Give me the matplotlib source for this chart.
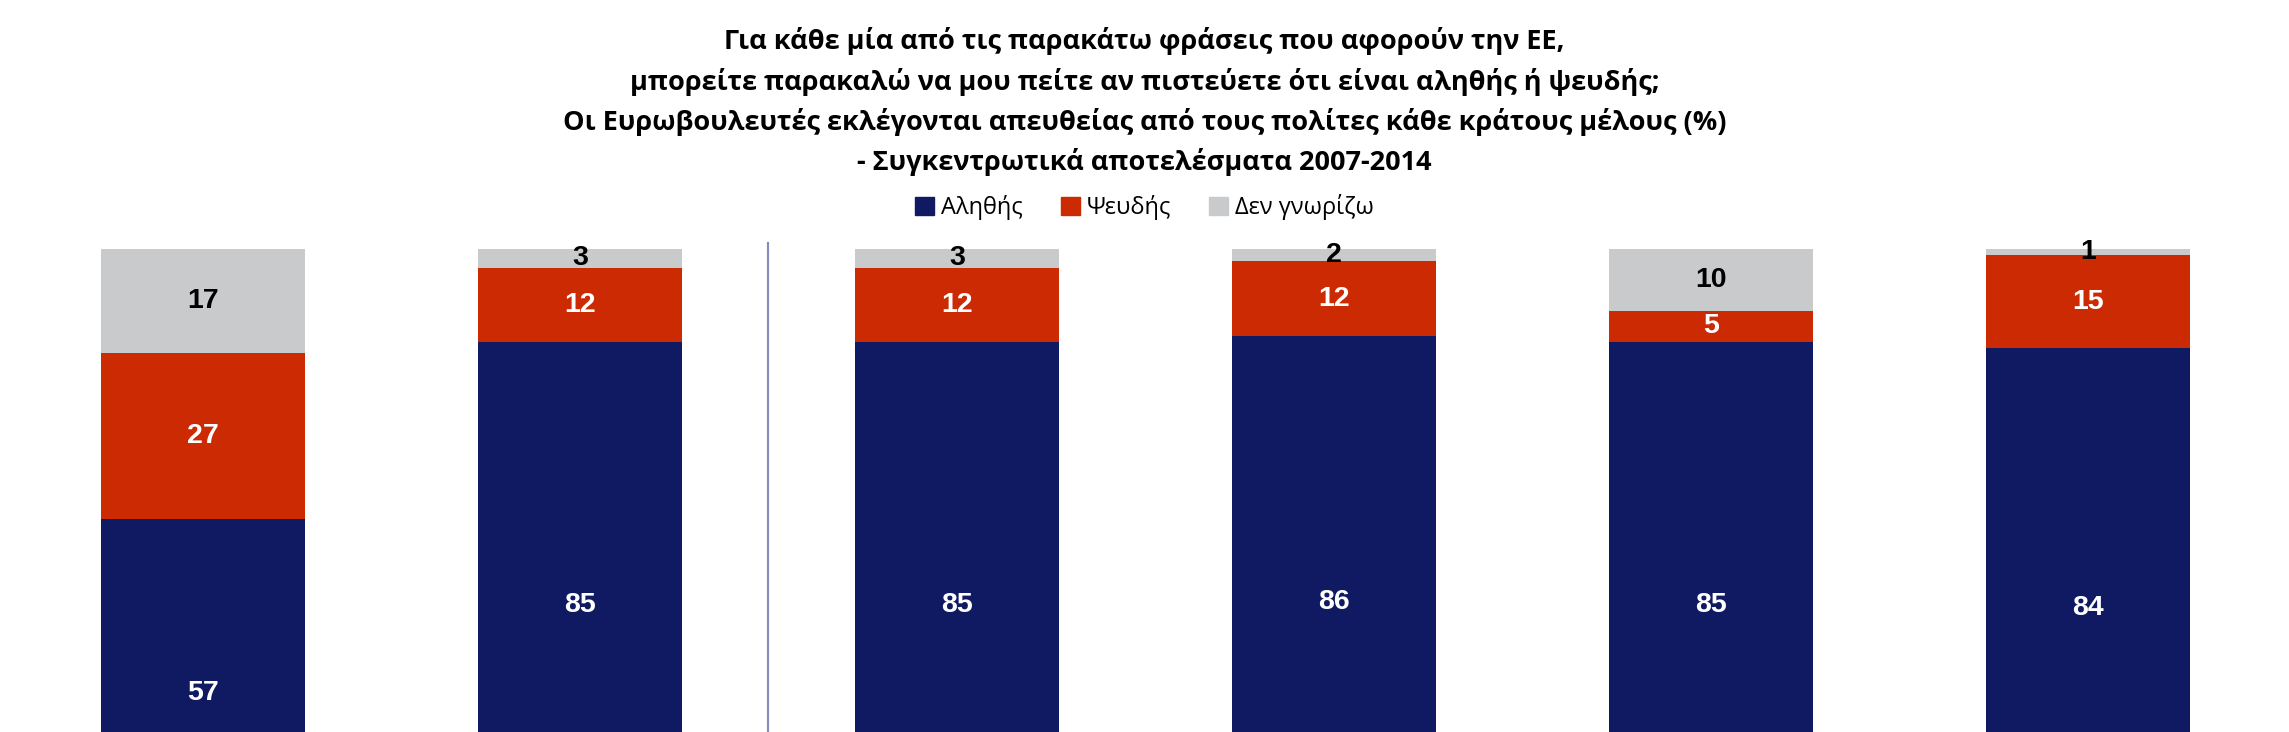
import matplotlib
matplotlib.use('Agg')
import matplotlib.pyplot as plt
import numpy as np
from matplotlib.patches import Patch

title = ('Για κάθε μία από τις παρακάτω φράσεις που αφορούν την ΕΕ,\n'
         'μπορείτε παρακαλώ να μου πείτε αν πιστεύετε ότι είναι αληθής ή ψευδής;\n'
         'Οι Ευρωβουλευτές εκλέγονται απευθείας από τους πολίτες κάθε κράτους μέλους (%)\n'
         '- Συγκεντρωτικά αποτελέσματα 2007-2014')

series_names = ['Αληθής', 'Ψευδής', 'Δεν γνωρίζω']
alithis = [57, 85, 85, 86, 85, 84]
psevdis = [27, 12, 12, 12, 5, 15]
den_gnorizo = [17, 3, 3, 2, 10, 1]

colors = ['#0F1A62', '#CB2A02', '#C9CACC']
label_colors = ['white', 'white', 'black']

fig = plt.figure(figsize=(22.89, 7.32), dpi=100)
# the bottom of the bars runs past the lower edge of the picture
ax = fig.add_axes([0.0063, -0.1858, 0.9882, 0.8456])

data = np.array([alithis, psevdis, den_gnorizo], dtype=float)
shares = data / data.sum(axis=0) * 100
x = np.arange(len(alithis))
bottom = np.zeros(len(x))
for i in range(3):
    ax.bar(x, shares[i], 0.54, bottom=bottom, color=colors[i])
    for j in range(len(x)):
        ax.text(x[j], bottom[j] + shares[i][j] / 2, str(int(data[i][j])),
                ha='center', va='center', color=label_colors[i],
                fontsize=20.5, fontweight='bold', family='Liberation Sans')
    bottom += shares[i]

# separator between the first two bars and the rest
ax.plot([1.5, 1.5], [0, 101], color='#8A8CC0', lw=1.6, clip_on=False)

ax.set_xlim(-0.5, 5.5)
ax.set_ylim(0, 100)
ax.axis('off')

fig.text(0.5, 0.861, title, ha='center', va='center', fontsize=19.5,
         fontweight='bold', family=['Open Sans', 'DejaVu Sans'], linespacing=1.56)

handles = [Patch(color=c) for c in colors]
fig.legend(handles, series_names, loc='center', bbox_to_anchor=(0.5, 1 - 207 / 732),
           ncol=3, frameon=False, prop={'family': 'Open Sans', 'size': 17},
           handlelength=0.8, handleheight=0.8, handletextpad=0.3, columnspacing=1.6)

fig.savefig('out.png', dpi=100)
